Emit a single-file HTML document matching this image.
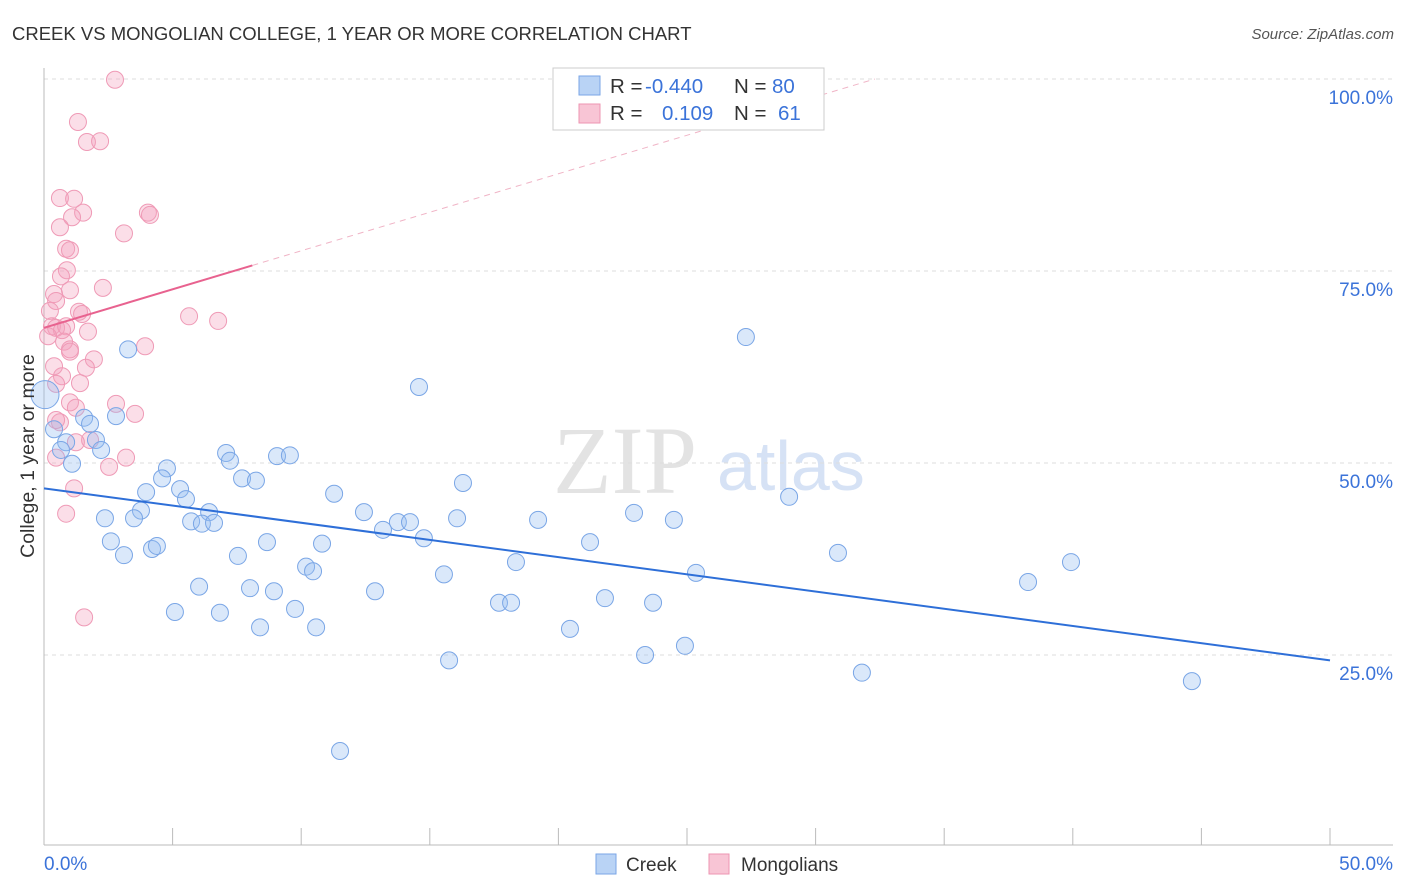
<!DOCTYPE html>
<html><head><meta charset="utf-8"><style>
body{margin:0;background:#fff;font-family:"Liberation Sans",sans-serif;}
svg{display:block}
</style></head><body>
<svg id="chart" width="1406" height="892">
<text x="12" y="40" font-size="18.5" fill="#333">CREEK VS MONGOLIAN COLLEGE, 1 YEAR OR MORE CORRELATION CHART</text>
<text x="1394" y="39" font-size="15" fill="#555" font-style="italic" text-anchor="end">Source: ZipAtlas.com</text>
<g>
<text x="553" y="493" font-size="96" font-family="Liberation Serif,serif" fill="#e3e3e3">ZIP</text>
<text x="717" y="490" font-size="70" fill="#d6e2f5">atlas</text>
</g>
<g id="grid"></g>
<g id="marks"></g>
<text transform="translate(34,456) rotate(-90)" font-size="19.5" fill="#333" text-anchor="middle">College, 1 year or more</text>
<g>
<rect x="553" y="68" width="271" height="62" fill="#fff" stroke="#ccc"/>
<rect x="579" y="76" width="21" height="19" fill="#b9d3f5" stroke="#7aa6e6"/>
<rect x="579" y="104" width="21" height="19" fill="#f8c5d5" stroke="#ee95b2"/>
<text x="610" y="93" font-size="20.5" fill="#333">R = <tspan fill="#3b73d9" x="645">-0.440</tspan></text>
<text x="734" y="93" font-size="20.5" fill="#333">N = <tspan fill="#3b73d9" x="772">80</tspan></text>
<text x="610" y="120" font-size="20.5" fill="#333">R = <tspan fill="#3b73d9" x="662">0.109</tspan></text>
<text x="734" y="120" font-size="20.5" fill="#333">N = <tspan fill="#3b73d9" x="778">61</tspan></text>
</g>
<g>
<rect x="596" y="854" width="20" height="20" fill="#b9d3f5" stroke="#7aa6e6"/>
<text x="626" y="871" font-size="19" fill="#333">Creek</text>
<rect x="709" y="854" width="20" height="20" fill="#f8c5d5" stroke="#ee95b2"/>
<text x="741" y="871" font-size="19" fill="#333">Mongolians</text>
</g>
</svg>
<script>
const yTicks=[100,75,50,25];
const yTickLabels=["100.0%","75.0%","50.0%","25.0%"];
const xTickLabels=["0.0%","50.0%"];
const creekX=[3.27,14.58,27.29,0.39,1.56,1.79,2.02,0.86,0.66,2.22,1.09,2.80,4.78,4.59,3.97,5.29,5.52,3.77,6.42,2.37,3.50,5.72,6.14,6.61,7.08,7.23,7.70,8.24,9.06,9.56,11.28,12.44,13.76,14.23,13.18,14.77,16.06,16.29,19.21,22.94,24.49,28.97,2.60,3.11,4.20,4.39,7.54,8.67,10.81,10.19,10.46,18.35,21.23,15.55,25.35,30.87,38.26,39.93,6.03,8.01,8.94,12.87,5.09,6.84,9.76,17.69,18.16,21.81,23.68,8.40,10.58,20.45,15.75,23.37,24.92,31.80,44.63,11.51,0.04];
const creekY=[64.8,59.9,66.4,54.4,55.9,55.1,53.0,52.7,51.7,51.7,49.9,56.1,49.3,48.0,46.2,46.6,45.3,43.8,43.6,42.8,42.8,42.4,42.1,42.2,51.3,50.3,48.0,47.7,50.9,51.0,46.0,43.6,42.3,42.3,41.3,40.2,42.8,47.4,42.6,43.5,42.6,45.6,39.8,38.0,38.8,39.2,37.9,39.7,39.5,36.5,35.9,37.1,39.7,35.5,35.7,38.3,34.5,37.1,33.9,33.7,33.3,33.3,30.6,30.5,31.0,31.8,31.8,32.4,31.8,28.6,28.6,28.4,24.3,25.0,26.2,22.7,21.6,12.5,58.9];
const mongX=[2.76,1.32,1.67,2.18,0.62,1.17,1.52,1.09,4.04,4.12,0.62,3.11,0.86,1.01,0.89,0.66,1.01,2.29,0.39,0.47,0.23,1.36,1.48,5.64,6.77,0.31,0.47,0.70,0.86,1.71,0.16,0.78,1.01,1.01,3.93,1.94,1.63,0.39,0.70,1.40,0.47,2.80,3.54,1.01,1.24,0.62,0.47,1.79,1.24,3.19,0.47,2.53,1.17,0.86,1.56];
const mongY=[99.9,94.4,91.8,91.9,84.5,84.4,82.6,82.0,82.6,82.3,80.7,79.9,77.9,77.7,75.1,74.3,72.5,72.8,72.0,71.1,69.8,69.7,69.4,69.1,68.5,67.8,67.6,67.3,67.8,67.1,66.5,65.8,64.8,64.5,65.2,63.5,62.4,62.6,61.3,60.4,60.3,57.7,56.4,57.9,57.2,55.3,55.6,53.0,52.7,50.7,50.7,49.5,46.7,43.4,29.9];
const creekTrend=[46.7,24.3];      // y at x=0 and x=50
const mongTrend=[67.6,1.003];      // intercept, slope
const mongSolidEnd=8.1;

const NS="http://www.w3.org/2000/svg";
const X=v=>44+v*25.72, Y=v=>79+(100-v)*7.68;
function el(t,a,p){const e=document.createElementNS(NS,t);for(const k in a)e.setAttribute(k,a[k]);p.appendChild(e);return e;}
const g=document.getElementById('grid'), m=document.getElementById('marks');
yTicks.forEach((t,i)=>{
  const l=el('line',{x1:44,x2:1393,y1:Y(t),y2:Y(t),stroke:'#ddd','stroke-dasharray':'4,4'},g);
  
  
  const tx=el('text',{x:1393,y:Y(t)+25,'font-size':19,fill:'#3b73d9','text-anchor':'end'},g);
  tx.textContent=yTickLabels[i];
  
  
});
const ax=el('line',{x1:44,x2:44,y1:68,y2:845,stroke:'#bbb'},g);


const bx=el('line',{x1:44,x2:1393,y1:845,y2:845,stroke:'#bbb'},g);


for(let k=0;k<=10;k++){
  const t=el('line',{x1:X(k*5),x2:X(k*5),y1:828,y2:845,stroke:'#bbb'},g);
  
  
}
xTickLabels.forEach((s,i)=>{
  const t=el('text',{x:i?1393:44,y:870,'font-size':19,fill:'#3b73d9','text-anchor':i?'end':'start'},g);
  t.textContent=s;
  
  
});
mongX.forEach((v,i)=>{
  const c=el('circle',{cx:X(v),cy:Y(mongY[i]),r:8.5,fill:'rgba(244,160,188,0.35)',stroke:'#ef9ab6','stroke-width':1},m);
  
  
});
creekX.forEach((v,i)=>{
  const c=el('circle',{cx:X(v),cy:Y(creekY[i]),r:i==creekX.length-1?14:8.5,fill:'rgba(150,190,240,0.35)',stroke:'#7aa6e6','stroke-width':1},m);
  
  
});
const ct=el('line',{x1:X(0),y1:Y(creekTrend[0]),x2:X(50),y2:Y(creekTrend[1]),stroke:'#2e6fd8','stroke-width':2},m);


const xEnd=(100-mongTrend[0])/mongTrend[1];
const md=el('line',{x1:X(mongSolidEnd),y1:Y(mongTrend[0]+mongTrend[1]*mongSolidEnd),x2:X(xEnd),y2:Y(100),stroke:'#f0b4c6','stroke-width':1,'stroke-dasharray':'6,5'},m);


const ms=el('line',{x1:X(0),y1:Y(mongTrend[0]),x2:X(mongSolidEnd),y2:Y(mongTrend[0]+mongTrend[1]*mongSolidEnd),stroke:'#e8628f','stroke-width':2},m);


</script>
</body></html>
